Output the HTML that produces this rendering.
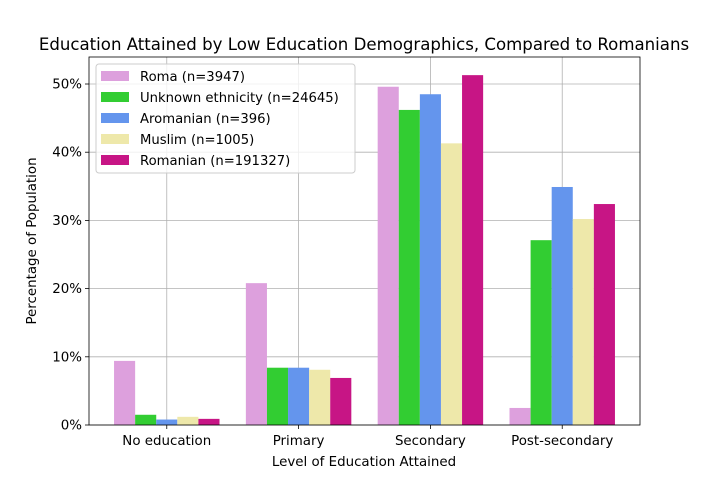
<!DOCTYPE html>
<html><head><meta charset="utf-8"><style>
body{margin:0;background:#fff;font-family:"Liberation Sans","DejaVu Sans",sans-serif}
</style></head><body>
<svg id="chart" width="711" height="478" xmlns="http://www.w3.org/2000/svg" font-family="DejaVu Sans, Liberation Sans, sans-serif"></svg>
<script>
const categories=["No education","Primary","Secondary","Post-secondary"];
const seriesNames=["Roma (n=3947)","Unknown ethnicity (n=24645)","Aromanian (n=396)","Muslim (n=1005)","Romanian (n=191327)"];
const roma=[9.4,20.8,49.6,2.5];
const unknown=[1.5,8.4,46.2,27.1];
const aromanian=[0.8,8.4,48.5,34.9];
const muslim=[1.2,8.1,41.3,30.2];
const romanian=[0.9,6.9,51.3,32.4];
const yTicks=[0,10,20,30,40,50];
const yTickLabels=["0%","10%","20%","30%","40%","50%"];
const series=[roma,unknown,aromanian,muslim,romanian];
const colors=["#dda0dd","#32cd32","#6495ed","#eee8aa","#c71585"];
const L=89,R=640,T=57,B=425,xmin=-0.59,xmax=3.59,ymax=53.96;
const sx=v=>L+(v-xmin)/(xmax-xmin)*(R-L);
const sy=v=>B-v/ymax*(B-T);
const svg=document.getElementById('chart');
const NS="http://www.w3.org/2000/svg";
function mk(t,a,txt){const e=document.createElementNS(NS,t);for(const k in a)e.setAttribute(k,a[k]);if(txt!=null)e.textContent=txt;svg.appendChild(e);return e;}
categories.forEach((c,i)=>{const g=mk('line',{x1:sx(i),x2:sx(i),y1:T,y2:B,stroke:'#b0b0b0','stroke-width':0.8});

});
yTicks.forEach(v=>{const g=mk('line',{x1:L,x2:R,y1:sy(v),y2:sy(v),stroke:'#b0b0b0','stroke-width':0.8});

});
const w=0.16;
series.forEach((s,j)=>{s.forEach((v,i)=>{const x0=sx(i+(j-2)*w-w/2),x1=sx(i+(j-2)*w+w/2);
const r=mk('rect',{x:x0,y:sy(v),width:x1-x0,height:B-sy(v),fill:colors[j]});

});});
const f=mk('rect',{x:L,y:T,width:R-L,height:B-T,fill:'none',stroke:'#000','stroke-width':0.8});


categories.forEach((c,i)=>{mk('line',{x1:sx(i),x2:sx(i),y1:B,y2:B+4,stroke:'#000','stroke-width':0.8});
const t=mk('text',{x:sx(i),y:B+20,'text-anchor':'middle','font-size':13.4},c);

});
yTicks.forEach((v,i)=>{mk('line',{x1:L-4,x2:L,y1:sy(v),y2:sy(v),stroke:'#000','stroke-width':0.8});
const t=mk('text',{x:L-7,y:sy(v)+4.5,'text-anchor':'end','font-size':13.4},yTickLabels[i]);

});
let t=mk('text',{x:364,y:50,'text-anchor':'middle','font-size':16.6},"Education Attained by Low Education Demographics, Compared to Romanians");


t=mk('text',{x:364,y:466,'text-anchor':'middle','font-size':13.4},"Level of Education Attained");


t=mk('text',{x:36,y:241,'text-anchor':'middle','font-size':13.4,transform:'rotate(-90 36 241)'},"Percentage of Population");


const lg=mk('rect',{x:96,y:64,width:259,height:109,rx:3,fill:'#fff','fill-opacity':0.8,stroke:'#ccc'});


seriesNames.forEach((n,j)=>{const y=76+j*21;
mk('rect',{x:101,y:y-5,width:28,height:10,fill:colors[j]});
const e=mk('text',{x:140,y:y+5,'font-size':13.2},n);

});
</script>
</body></html>
